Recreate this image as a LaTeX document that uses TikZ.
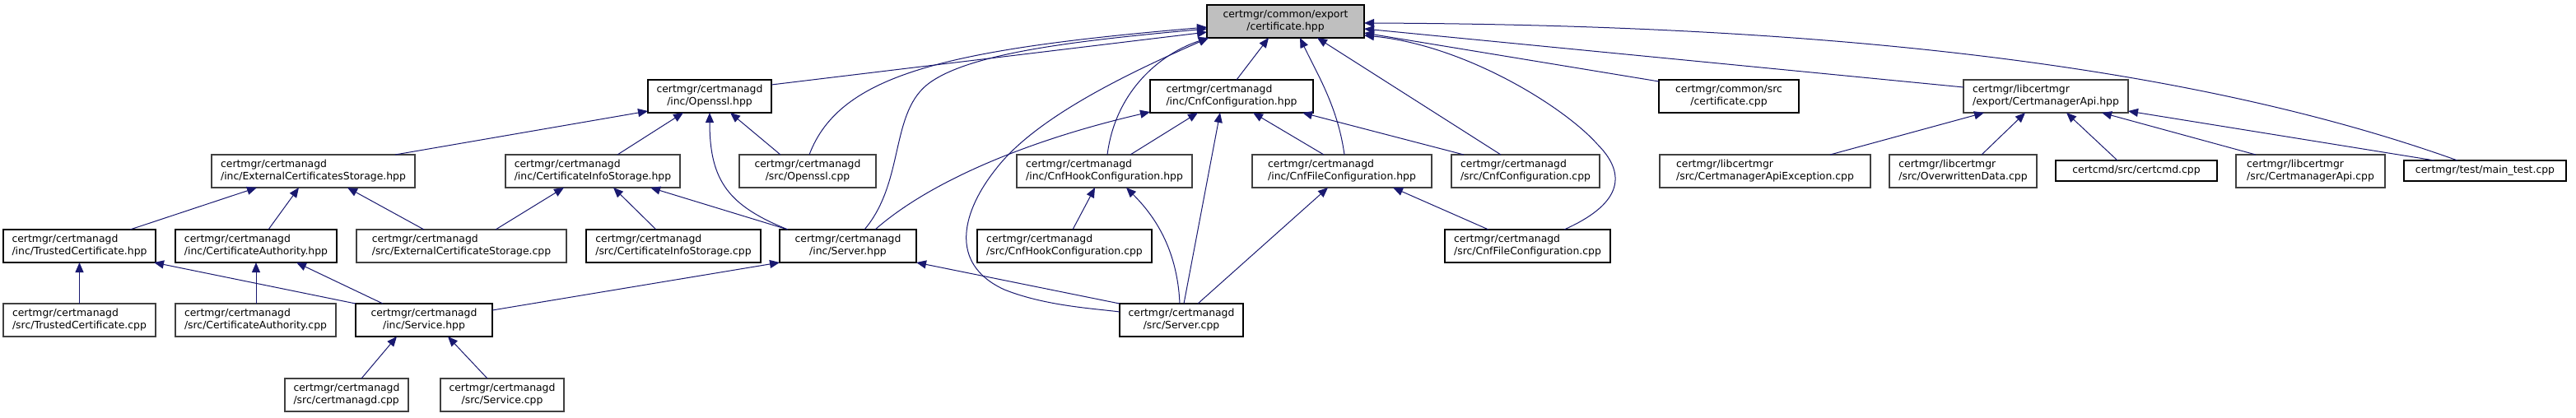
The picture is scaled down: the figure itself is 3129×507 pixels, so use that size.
\documentclass[tikz,border=0pt]{standalone}
\usepackage{fontspec}
\setmainfont{DejaVu Sans}
\usetikzlibrary{arrows.meta,calc}
\definecolor{navy}{HTML}{191970}
\definecolor{greyb}{HTML}{404040}
\definecolor{greyf}{HTML}{BFBFBF}
\tikzset{
  box/.style={draw=black, line width=1.1pt, fill=white, inner sep=0pt, outer sep=0pt,
    font=\fontsize{12.4}{15}\selectfont, text=black, minimum height=40pt},
  gbox/.style={box, draw=greyb, line width=1.2pt},
  L/.style={align=left}, C/.style={align=center},
  dep/.style={draw=navy, line width=1pt, {Triangle[length=12pt,width=10pt]}-},
}
\begin{document}
\begin{tikzpicture}[x=1pt,y=-1pt]
\fill[white] (0,0) rectangle (3129,507);
\useasboundingbox (0,0) rectangle (3129,507);
% row 0
\node[box,C,fill=greyf,minimum width=191pt] (cert) at (1561.5,26) {certmgr/common/export\\/certificate.hpp};
% row 1
\node[box,C,minimum width=150pt] (openh) at (862,117) {certmgr/certmanagd\\/inc/Openssl.hpp};
\node[box,L,minimum width=198pt] (cnfh) at (1496,117) {certmgr/certmanagd\\/inc/CnfConfiguration.hpp};
\node[box,C,minimum width=170pt] (comsrc) at (2100,117) {certmgr/common/src\\/certificate.cpp};
\node[gbox,L,minimum width=200pt] (apih) at (2485,117) {certmgr/libcertmgr\\/export/CertmanagerApi.hpp};
% row 2
\node[gbox,L,minimum width=247pt] (extsh) at (380.5,208) {certmgr/certmanagd\\/inc/ExternalCertificatesStorage.hpp};
\node[gbox,L,minimum width=212pt] (cish) at (720,208) {certmgr/certmanagd\\/inc/CertificateInfoStorage.hpp};
\node[gbox,C,minimum width=166pt] (opencpp) at (981,208) {certmgr/certmanagd\\/src/Openssl.cpp};
\node[gbox,L,minimum width=213pt] (hookh) at (1341.5,208) {certmgr/certmanagd\\/inc/CnfHookConfiguration.hpp};
\node[gbox,L,minimum width=218pt] (fileh) at (1630,208) {certmgr/certmanagd\\/inc/CnfFileConfiguration.hpp};
\node[gbox,L,minimum width=180pt] (cnfcpp) at (1853,208) {certmgr/certmanagd\\/src/CnfConfiguration.cpp};
\node[gbox,L,minimum width=256pt] (apiexc) at (2144,208) {certmgr/libcertmgr\\/src/CertmanagerApiException.cpp};
\node[gbox,L,minimum width=179pt] (owd) at (2384.5,208) {certmgr/libcertmgr\\/src/OverwrittenData.cpp};
\node[box,minimum width=196pt,minimum height=25pt] (certcmd) at (2595,207.5) {certcmd/src/certcmd.cpp};
\node[gbox,L,minimum width=181pt] (apicpp) at (2806.5,208) {certmgr/libcertmgr\\/src/CertmanagerApi.cpp};
\node[box,minimum width=197pt,minimum height=25pt] (maintest) at (3018.5,207.5) {certmgr/test/main\_test.cpp};
% row 3
\node[box,L,minimum width=185pt] (trusth) at (96.5,299) {certmgr/certmanagd\\/inc/TrustedCertificate.hpp};
\node[box,L,minimum width=196pt] (cah) at (311,299) {certmgr/certmanagd\\/inc/CertificateAuthority.hpp};
\node[gbox,L,minimum width=255pt] (extcpp) at (560.5,299) {certmgr/certmanagd\\/src/ExternalCertificateStorage.cpp};
\node[box,L,minimum width=212pt] (ciscpp) at (818,299) {certmgr/certmanagd\\/src/CertificateInfoStorage.cpp};
\node[box,C,minimum width=166pt] (serverh) at (1030,299) {certmgr/certmanagd\\/inc/Server.hpp};
\node[box,L,minimum width=212pt] (hookcpp) at (1293,299) {certmgr/certmanagd\\/src/CnfHookConfiguration.cpp};
\node[box,L,minimum width=201pt] (filecpp) at (1855.5,299) {certmgr/certmanagd\\/src/CnfFileConfiguration.cpp};
% row 4
\node[gbox,L,minimum width=185pt] (trustcpp) at (96.5,389) {certmgr/certmanagd\\/src/TrustedCertificate.cpp};
\node[gbox,L,minimum width=195pt] (cacpp) at (310.5,389) {certmgr/certmanagd\\/src/CertificateAuthority.cpp};
\node[box,C,minimum width=166pt] (serviceh) at (515,389) {certmgr/certmanagd\\/inc/Service.hpp};
\node[box,C,minimum width=150pt] (servercpp) at (1435,389) {certmgr/certmanagd\\/src/Server.cpp};
% row 5
\node[gbox,L,minimum width=150pt] (mgdcpp) at (421,480) {certmgr/certmanagd\\/src/certmanagd.cpp};
\node[gbox,C,minimum width=150pt] (servicecpp) at (610,480) {certmgr/certmanagd\\/src/Service.cpp};
% edges into certificate.hpp
\draw[dep] ($(cert.north west)+(0,33)$) -- ($(openh.north east)+(0,6)$);
\draw[dep] ($(cert.north west)+(0,27)$) .. controls (1150,60) and (1020,90) .. ($(opencpp.north west)+(85,0)$);
\draw[dep] ($(cert.north west)+(0,29)$) .. controls (1300,50) and (1180,65) .. (1130,100) .. controls (1080,135) and (1100,220) .. ($(serverh.north west)+(103,0)$);
\draw[dep] ($(cert.south west)+(2,0)$) .. controls (1380,85) and (1260,140) .. (1210,205) .. controls (1170,255) and (1150,320) .. (1220,352) .. controls (1270,372) and (1330,375) .. ($(servercpp.north west)+(0,10)$);
\draw[dep] ($(cert.south west)+(75,0)$) -- ($(cnfh.north west)+(105,0)$);
\draw[dep] ($(cert.south west)+(2,0)$) .. controls (1410,65) and (1355,110) .. ($(hookh.north west)+(110,0)$);
\draw[dep] ($(cert.south west)+(113,0)$) .. controls (1600,90) and (1625,130) .. ($(fileh.north west)+(112,0)$);
\draw[dep] ($(cert.south west)+(134,0)$) -- ($(cnfcpp.north west)+(60,0)$);
\draw[dep] ($(cert.north east)+(0,37)$) .. controls (1780,55) and (1900,130) .. (1940,175) .. controls (1980,215) and (1965,250) .. ($(filecpp.north west)+(145,0)$);
\draw[dep] ($(cert.north east)+(0,34)$) -- ($(comsrc.north west)+(0,2)$);
\draw[dep] ($(cert.north east)+(0,29)$) -- ($(apih.north west)+(0,9)$);
\draw[dep] ($(cert.north east)+(0,22)$) .. controls (2200,30) and (2650,75) .. ($(maintest.north west)+(65,0)$);
% Openssl.hpp
\draw[dep] ($(openh.north west)+(0,38)$) -- ($(extsh.north west)+(223,0)$);
\draw[dep] ($(openh.south west)+(43,0)$) -- ($(cish.north west)+(136,0)$);
\draw[dep] ($(openh.south west)+(100,0)$) -- ($(opencpp.north west)+(50,0)$);
\draw[dep] ($(openh.south west)+(75,0)$) .. controls (862,220) and (885,250) .. ($(serverh.north west)+(10,0)$);
% ExternalCertificatesStorage.hpp
\draw[dep] ($(extsh.south west)+(55,0)$) -- ($(trusth.north west)+(154,0)$);
\draw[dep] ($(extsh.south west)+(106,0)$) -- ($(cah.north west)+(113,0)$);
\draw[dep] ($(extsh.south west)+(165,0)$) -- ($(extcpp.north west)+(82,0)$);
% CertificateInfoStorage.hpp
\draw[dep] ($(cish.south west)+(71,0)$) -- ($(extcpp.north west)+(169,0)$);
\draw[dep] ($(cish.south west)+(131,0)$) -- ($(ciscpp.north west)+(85,0)$);
\draw[dep] ($(cish.south west)+(176,0)$) -- ($(serverh.north west)+(10,0)$);
% TrustedCertificate.hpp, CertificateAuthority.hpp
\draw[dep] (trusth.south) -- (trustcpp.north);
\draw[dep] ($(trusth.south east)+(-2,0)$) -- (serviceh.north west);
\draw[dep] (cah.south) -- (cah.south |- cacpp.north);
\draw[dep] ($(cah.south west)+(147,0)$) -- ($(serviceh.north west)+(33,0)$);
% Server.hpp, Service.hpp
\draw[dep] (serverh.south west) -- ($(serviceh.north east)+(0,8)$);
\draw[dep] ($(serviceh.south west)+(50,0)$) -- ($(mgdcpp.north west)+(93,0)$);
\draw[dep] ($(serviceh.south west)+(112,0)$) -- ($(servicecpp.north west)+(57,0)$);
\draw[dep] (serverh.south east) -- (servercpp.north west);
% CnfConfiguration.hpp
\draw[dep] ($(cnfh.south west)+(0,-1)$) .. controls (1250,170) and (1130,220) .. ($(serverh.north west)+(116,0)$);
\draw[dep] ($(cnfh.south west)+(58,0)$) -- ($(hookh.north west)+(138,0)$);
\draw[dep] ($(cnfh.south west)+(85,0)$) -- ($(servercpp.north west)+(78,0)$);
\draw[dep] ($(cnfh.south west)+(125,0)$) -- ($(fileh.north west)+(87,0)$);
\draw[dep] ($(cnfh.south west)+(185,0)$) -- ($(cnfcpp.north west)+(15,0)$);
% CnfHookConfiguration.hpp, CnfFileConfiguration.hpp
\draw[dep] ($(hookh.south west)+(95,0)$) -- ($(hookcpp.north west)+(116,0)$);
\draw[dep] ($(hookh.south west)+(133,0)$) .. controls (1400,260) and (1430,300) .. ($(servercpp.north west)+(73,0)$);
\draw[dep] ($(fileh.south west)+(92,0)$) -- ($(servercpp.north west)+(95,0)$);
\draw[dep] ($(fileh.south west)+(171,0)$) -- ($(filecpp.north west)+(53,0)$);
% CertmanagerApi.hpp
\draw[dep] ($(apih.south west)+(25,0)$) -- ($(apiexc.north west)+(207,0)$);
\draw[dep] ($(apih.south west)+(75,0)$) -- ($(owd.north west)+(112,0)$);
\draw[dep] ($(apih.south west)+(125,0)$) -- ($(certcmd.north west)+(75,0)$);
\draw[dep] ($(apih.south west)+(168,0)$) -- ($(apicpp.north west)+(24,0)$);
\draw[dep] ($(apih.south east)+(0,-2)$) -- ($(maintest.north west)+(37,0)$);
\end{tikzpicture}
\end{document}
